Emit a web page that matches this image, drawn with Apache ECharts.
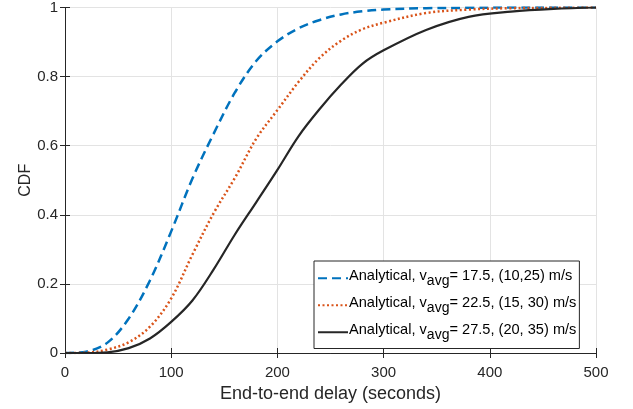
<!DOCTYPE html>
<html><head><meta charset="utf-8">
<script src="https://cdn.jsdelivr.net/npm/echarts@6/dist/echarts.min.js"></script>
<style>html,body{margin:0;padding:0;background:#fff}#c{width:633px;height:409px}</style>
</head><body><div id="c"></div>
<script>
const delays = [0,20,40,60,80,100,120,140,160,180,200,220,240,260,280,300,340,380,420,460,500];
const cdf175 = [0,0.004,0.03,0.1,0.21,0.352,0.505,0.635,0.754,0.845,0.902,0.94,0.964,0.98,0.989,0.994,0.998,0.999,1,1,1];
const cdf225 = [0,0.001,0.01,0.031,0.076,0.158,0.285,0.405,0.507,0.62,0.703,0.785,0.855,0.904,0.937,0.956,0.984,0.994,0.998,0.999,1];
const cdf275 = [0,0,0.002,0.014,0.042,0.09,0.152,0.242,0.343,0.436,0.53,0.628,0.707,0.777,0.837,0.876,0.935,0.973,0.988,0.996,1];
const names = ['s1','s2','s3'];
const legendMain = ['= 17.5, (10,25) m/s','= 22.5, (15, 30) m/s','= 27.5, (20, 35) m/s'];

const FONT = '"Liberation Sans", Arial, sans-serif';
const AX = '#262626';
const chart = echarts.init(document.getElementById('c'), null, {renderer:'canvas'});
const pair = (ys) => delays.map((x,i)=>[x, ys[i]]);
const base = {type:'line', showSymbol:false, symbol:'none', smooth:0.35, animation:false};
chart.setOption({
  backgroundColor:'#fff',
  animation:false,
  grid:{left:65, right:37, top:7, bottom:56},
  xAxis:[{type:'value', min:0, max:500, interval:100,
    name:'End-to-end delay (seconds)', nameLocation:'middle', nameGap:32, nameMoveOverlap:false,
    nameTextStyle:{fontFamily:FONT, fontSize:18, color:AX},
    axisLine:{show:true, onZero:false, lineStyle:{color:AX, width:1}},
    axisTick:{show:true, inside:true, length:5, lineStyle:{color:AX}},
    axisLabel:{fontFamily:FONT, fontSize:15, color:AX, margin:12},
    splitLine:{show:true, lineStyle:{color:'#e3e3e3', width:1}}},
   {type:'value', position:'top', min:0, max:500, interval:100,
    axisLine:{show:true, lineStyle:{color:AX}}, axisTick:{show:true, inside:true, length:5, lineStyle:{color:AX}},
    axisLabel:{show:false}, splitLine:{show:false}}],
  yAxis:[{type:'value', min:0, max:1, interval:0.2,
    name:'CDF', nameLocation:'middle', nameGap:31, nameRotate:90, nameMoveOverlap:false,
    nameTextStyle:{fontFamily:FONT, fontSize:16, color:AX},
    axisLine:{show:true, lineStyle:{color:AX}},
    axisTick:{show:true, inside:true, length:5, lineStyle:{color:AX}},
    axisLabel:{fontFamily:FONT, fontSize:15, color:AX, margin:7,
      formatter:v=> (v===0||v===1)? String(v) : v.toFixed(1)},
    splitLine:{show:true, lineStyle:{color:'#e3e3e3', width:1}}},
   {type:'value', position:'right', min:0, max:1, interval:0.2,
    axisLine:{show:true, lineStyle:{color:AX}}, axisTick:{show:true, inside:true, length:5, lineStyle:{color:AX}},
    axisLabel:{show:false}, splitLine:{show:false}}],
  legend:{orient:'vertical', left:314, top:261,
    backgroundColor:'#fff', borderColor:'#262626', borderWidth:1,
    padding:[7,3,6,3], itemGap:6.5, itemWidth:30, itemHeight:20,
    itemStyle:{opacity:0},
    data:names.map(n=>({name:n})),
    formatter:(n)=>{const i=names.indexOf(n); return '{m|Analytical, v}{s|avg}{m|'+legendMain[i]+'}';},
    textStyle:{fontFamily:FONT, color:'#000', padding:[0,0,0,-4],
      rich:{m:{fontFamily:FONT, fontSize:14.6, color:'#000', lineHeight:20.5, verticalAlign:'top'},
            s:{fontFamily:FONT, fontSize:14, color:'#000', lineHeight:20.5, verticalAlign:'bottom'}}}},
  series:[
    Object.assign({}, base, {name:names[0], data:pair(cdf175), lineStyle:{color:'#0072BD', width:2.5, type:[9,5]}, itemStyle:{color:'#0072BD'}}),
    Object.assign({}, base, {name:names[1], data:pair(cdf225), lineStyle:{color:'#D95319', width:2.5, type:[2,2.5]}, itemStyle:{color:'#D95319'}}),
    Object.assign({}, base, {name:names[2], data:pair(cdf275), lineStyle:{color:'#262626', width:2.2, type:'solid'}, itemStyle:{color:'#262626'}})
  ]
});
</script></body></html>
